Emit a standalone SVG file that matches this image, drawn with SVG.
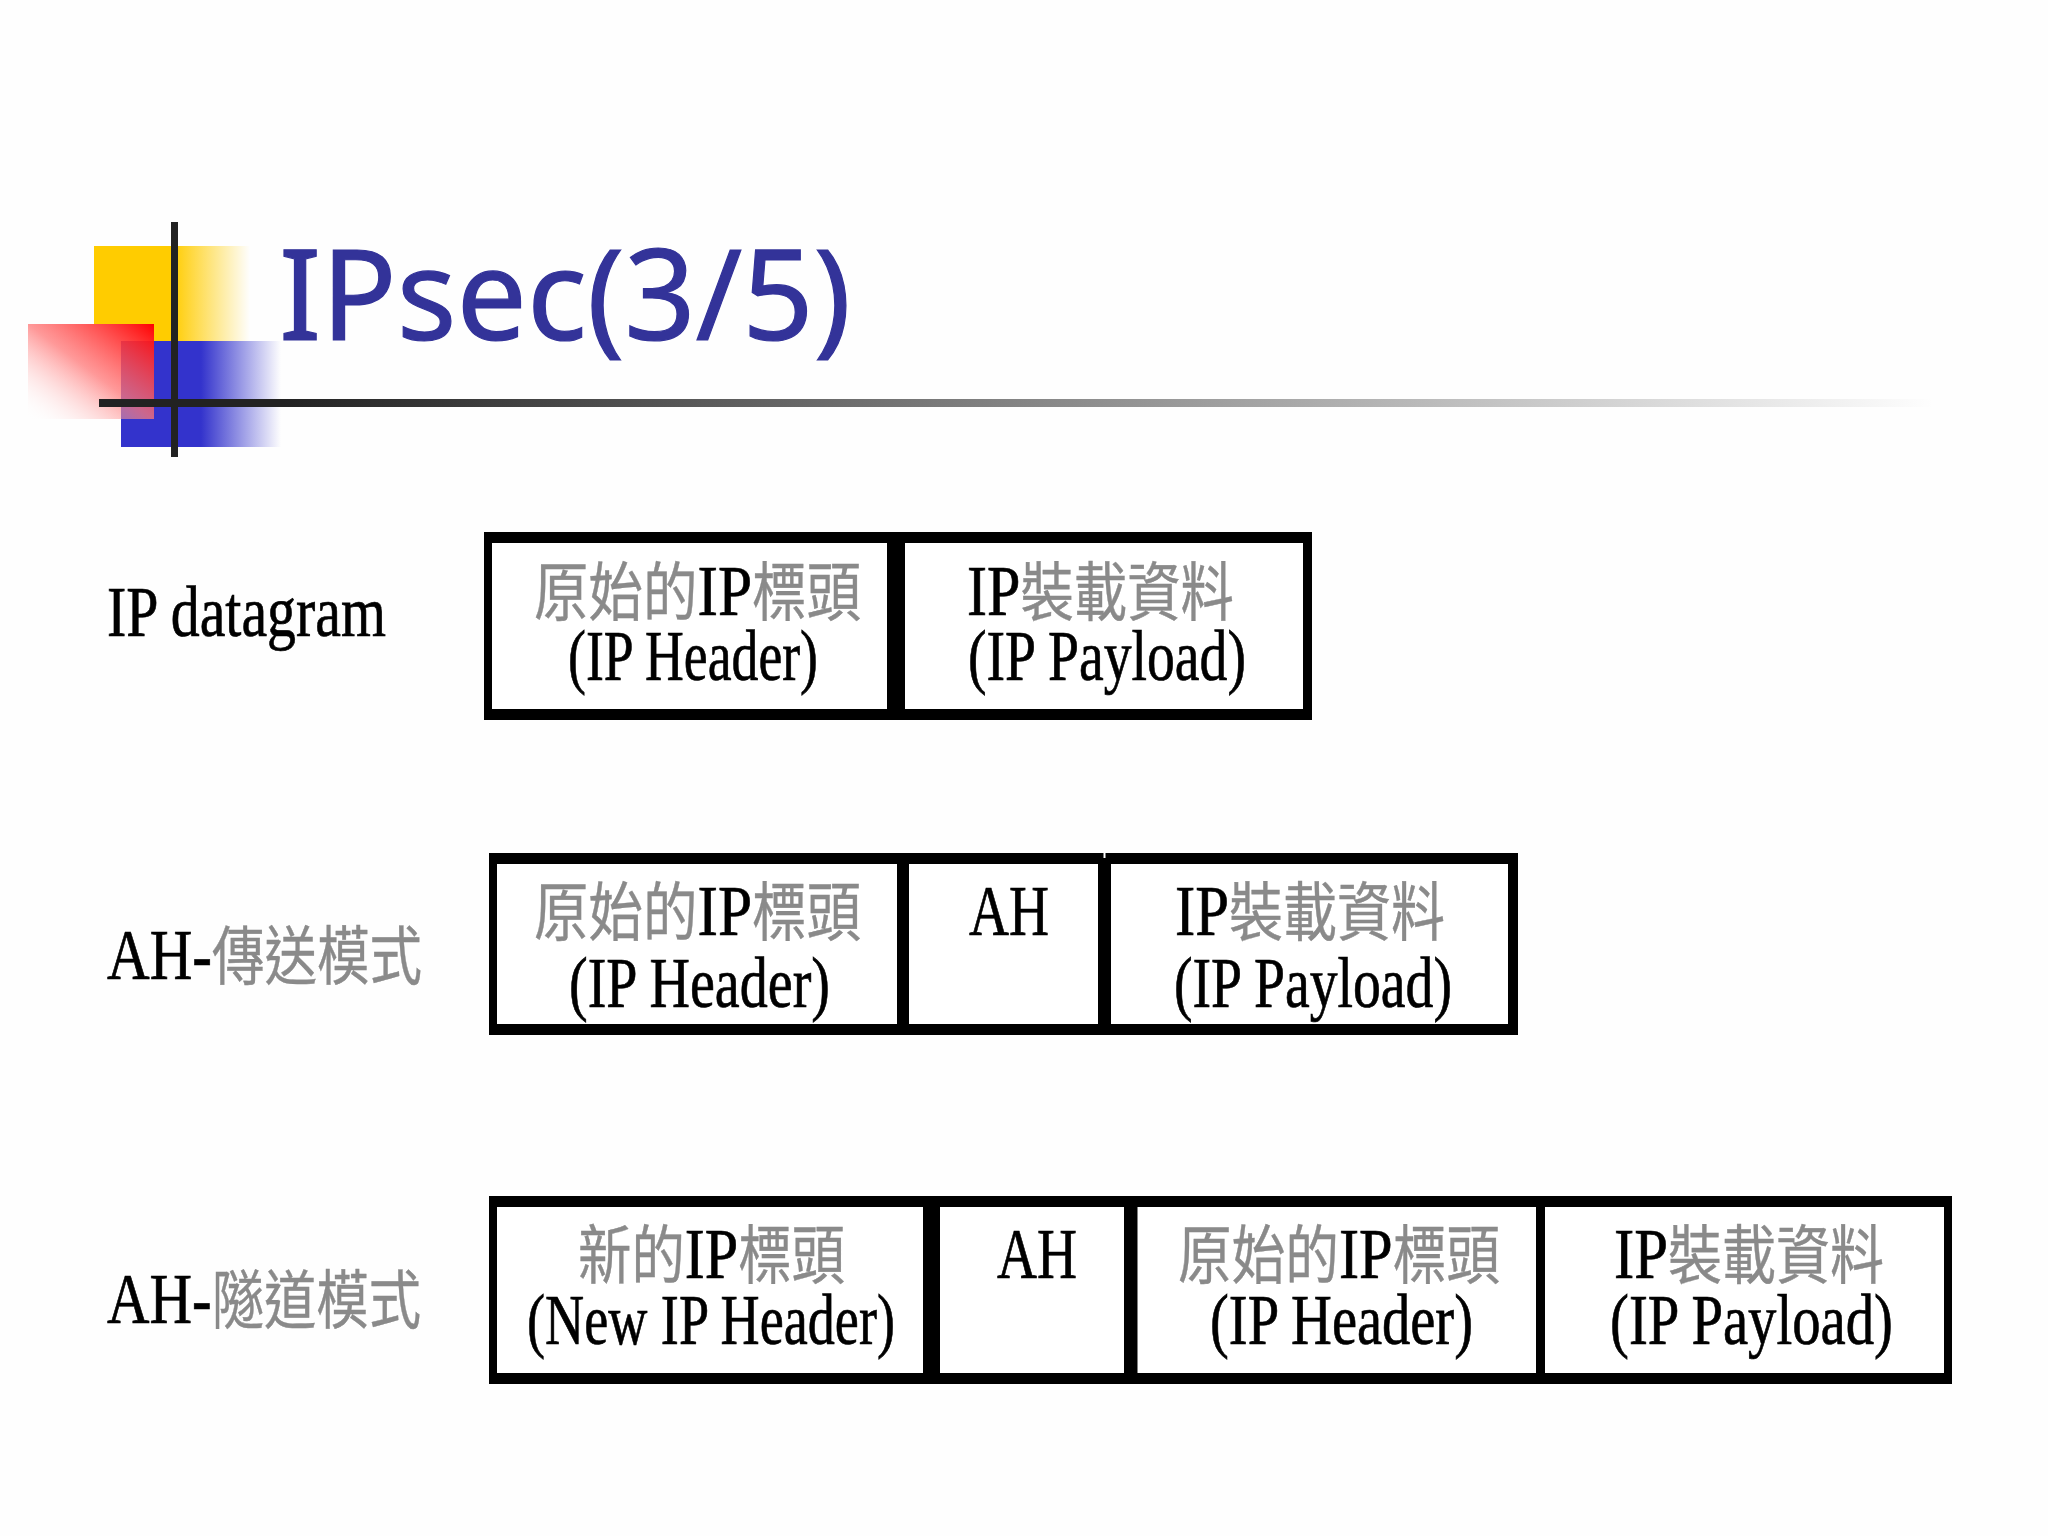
<svg xmlns="http://www.w3.org/2000/svg" width="2048" height="1536" viewBox="0 0 2048 1536">
<style>
.t{font-family:"Liberation Serif","Noto Sans CJK TC",serif;font-size:72px;fill:#000;stroke:#000;stroke-width:0.7px;filter:url(#soft)}
.c{font-family:"Noto Sans CJK TC",sans-serif;font-size:64px;fill:#8a8a8a;stroke:#8a8a8a;stroke-width:0.4px}
.title{font-family:"Noto Sans",sans-serif;font-size:127px;fill:#333399;stroke:#333399;stroke-width:1.2px}
.frame{fill:#000}
.cell{fill:#fff}
</style>
<defs>
<filter id="soft" x="-5%" y="-10%" width="110%" height="120%"><feGaussianBlur stdDeviation="0.7"/></filter>
<linearGradient id="yg" x1="0" x2="1" y1="0" y2="0"><stop offset="0.5" stop-color="#ffcc00"/><stop offset="1" stop-color="#ffcc00" stop-opacity="0"/></linearGradient>
<linearGradient id="bg" x1="0" x2="1" y1="0" y2="0"><stop offset="0.5" stop-color="#3333cc"/><stop offset="1" stop-color="#3333cc" stop-opacity="0"/></linearGradient>
<linearGradient id="rg" x1="1" x2="0" y1="0" y2="1"><stop offset="0" stop-color="#ff0000"/><stop offset="0.5" stop-color="#ff7777" stop-opacity="0.75"/><stop offset="1" stop-color="#ffffff" stop-opacity="0"/></linearGradient>
<linearGradient id="lg" x1="0" x2="1" y1="0" y2="0"><stop offset="0.1" stop-color="#222"/><stop offset="1" stop-color="#222" stop-opacity="0"/></linearGradient>
</defs>
<rect width="2048" height="1536" fill="#fefefe"/>
<g id="decor">
<rect x="94" y="246" width="156" height="95" fill="url(#yg)"/>
<rect x="121" y="341" width="160" height="106" fill="url(#bg)"/>
<rect x="94" y="324" width="60" height="17" fill="#fff"/>
<rect x="28" y="324" width="126" height="95" fill="url(#rg)"/>
<rect x="99" y="399" width="1835" height="8" fill="url(#lg)"/>
<rect x="171" y="222" width="7" height="235" fill="#222"/>
</g>
<text id="title" class="title" x="279" y="340" textLength="572" lengthAdjust="spacingAndGlyphs">IPsec(3/5)</text>

<g id="label-ip"><text class="t" x="107" y="636" textLength="279" lengthAdjust="spacingAndGlyphs">IP datagram</text></g>
<g id="label-ah-transport"><text class="t" x="107" y="979" textLength="315" lengthAdjust="spacingAndGlyphs">AH-<tspan class="c">傳送模式</tspan></text></g>
<g id="label-ah-tunnel"><text class="t" x="107" y="1323" textLength="314" lengthAdjust="spacingAndGlyphs">AH-<tspan class="c">隧道模式</tspan></text></g>

<g id="row-ip">
<rect class="frame" x="484" y="532" width="828" height="188"/>
<g id="r1-header"><rect class="cell" x="492" y="543" width="395" height="166"/>
<text class="t" x="534" y="615" textLength="327" lengthAdjust="spacingAndGlyphs"><tspan class="c">原始的</tspan>IP<tspan class="c">標頭</tspan></text>
<text class="t" x="568" y="680" textLength="250" lengthAdjust="spacingAndGlyphs">(IP Header)</text></g>
<g id="r1-payload"><rect class="cell" x="905" y="543" width="398" height="166"/>
<text class="t" x="967" y="615" textLength="267" lengthAdjust="spacingAndGlyphs">IP<tspan class="c">裝載資料</tspan></text>
<text class="t" x="968" y="680" textLength="278" lengthAdjust="spacingAndGlyphs">(IP Payload)</text></g>
</g>

<g id="row-transport">
<rect class="frame" x="489" y="853" width="1029" height="182"/>
<rect class="cell" x="1103.5" y="853" width="2" height="5"/>
<g id="r2-header"><rect class="cell" x="497" y="864" width="400" height="160"/>
<text class="t" x="534" y="935" textLength="327" lengthAdjust="spacingAndGlyphs"><tspan class="c">原始的</tspan>IP<tspan class="c">標頭</tspan></text>
<text class="t" x="569" y="1007" textLength="261" lengthAdjust="spacingAndGlyphs">(IP Header)</text></g>
<g id="r2-ah"><rect class="cell" x="909" y="864" width="189" height="160"/>
<text class="t" x="969" y="935" textLength="80" lengthAdjust="spacingAndGlyphs">AH</text></g>
<g id="r2-payload"><rect class="cell" x="1111" y="864" width="397" height="160"/>
<text class="t" x="1175" y="935" textLength="270" lengthAdjust="spacingAndGlyphs">IP<tspan class="c">裝載資料</tspan></text>
<text class="t" x="1174" y="1007" textLength="278" lengthAdjust="spacingAndGlyphs">(IP Payload)</text></g>
</g>

<g id="row-tunnel">
<rect class="frame" x="489" y="1196" width="1463" height="188"/>
<g id="r3-newheader"><rect class="cell" x="497" y="1207" width="426" height="166"/>
<text class="t" x="578" y="1278" textLength="267" lengthAdjust="spacingAndGlyphs"><tspan class="c">新的</tspan>IP<tspan class="c">標頭</tspan></text>
<text class="t" x="527" y="1344" textLength="368" lengthAdjust="spacingAndGlyphs">(New IP Header)</text></g>
<g id="r3-ah"><rect class="cell" x="940" y="1207" width="184" height="166"/>
<text class="t" x="997" y="1278" textLength="80" lengthAdjust="spacingAndGlyphs">AH</text></g>
<g id="r3-header"><rect class="cell" x="1137.5" y="1207" width="398.5" height="166"/>
<text class="t" x="1178" y="1278" textLength="322" lengthAdjust="spacingAndGlyphs"><tspan class="c">原始的</tspan>IP<tspan class="c">標頭</tspan></text>
<text class="t" x="1210" y="1344" textLength="263" lengthAdjust="spacingAndGlyphs">(IP Header)</text></g>
<g id="r3-payload"><rect class="cell" x="1545" y="1207" width="399" height="166"/>
<text class="t" x="1614" y="1278" textLength="270" lengthAdjust="spacingAndGlyphs">IP<tspan class="c">裝載資料</tspan></text>
<text class="t" x="1610" y="1344" textLength="283" lengthAdjust="spacingAndGlyphs">(IP Payload)</text></g>
</g>
</svg>
